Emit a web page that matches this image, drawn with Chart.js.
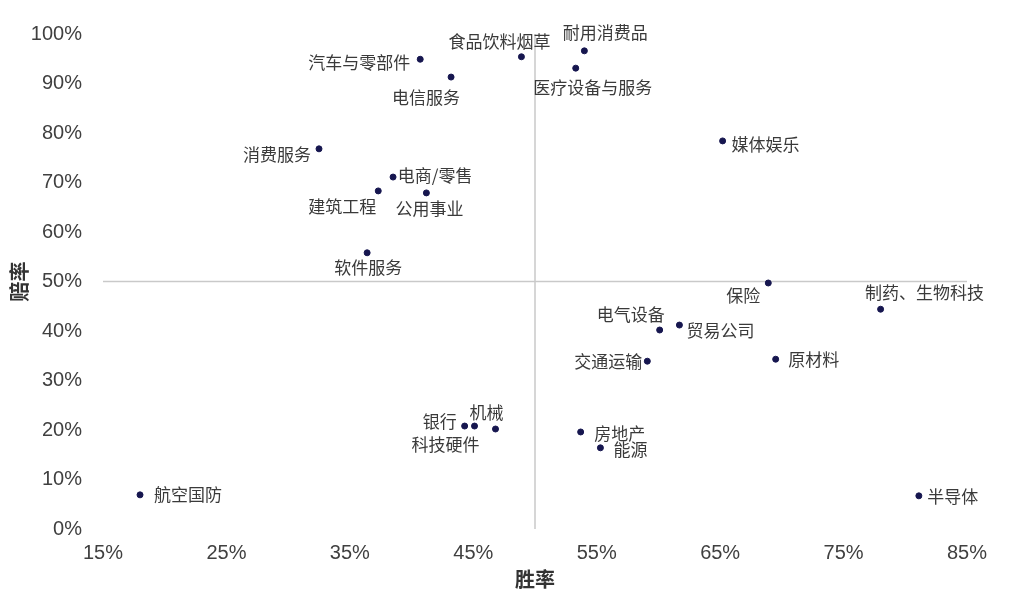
<!DOCTYPE html>
<html>
<head>
<meta charset="utf-8">
<script src="https://cdn.jsdelivr.net/npm/chart.js@4"></script>
<style>
  html, body { margin: 0; padding: 0; background: #fff; }
  #wrap { width: 1024px; height: 596px; }
</style>
</head>
<body>
<div id="wrap"><canvas id="myChart"></canvas></div>
<script>
const ctx = document.getElementById("myChart");

// 行业名称
const industries = [
  "航空国防", "半导体", "汽车与零部件", "食品饮料烟草", "耐用消费品", "医疗设备与服务",
  "电信服务", "消费服务", "电商/零售", "建筑工程", "公用事业", "软件服务",
  "媒体娱乐", "保险", "制药、生物科技", "电气设备", "贸易公司", "交通运输",
  "原材料", "银行", "科技硬件", "机械", "房地产", "能源"
];

// 胜率 (%)
const winRate = [
  18.0, 81.1, 40.7, 48.9, 54.0, 53.3,
  43.2, 32.5, 38.5, 37.3, 41.2, 36.4,
  65.2, 68.9, 78.0, 60.1, 61.7, 59.1,
  69.5, 44.3, 45.1, 46.8, 53.7, 55.3
];

// 赔率 (%)
const oddsRate = [
  6.9, 6.7, 94.9, 95.4, 96.6, 93.1,
  91.3, 76.8, 71.1, 68.3, 67.9, 55.8,
  78.4, 49.7, 44.4, 40.2, 41.2, 33.9,
  34.3, 20.8, 20.8, 20.2, 19.6, 16.4
];

const xTicks = [15, 25, 35, 45, 55, 65, 75, 85];
const crossAt = 50;

// label offsets from the dot (px), layout only
const labelDx = [48, 34, -61, -22, 21, 17, -25, -42, 42, -36, 3, 1, 43, -25, 44, -29, 41, -39, 38, -25, -29, -9, 39, 30];
const labelDy = [0, 1, 3, -15, -18, 19, 20, 6, -2, 16, 16, 15, 4, 13, -17, -15, 5, 0, 0, -4, 19, -16, 2, 2];

const points = winRate.map((x, i) => ({ x: x, y: oddsRate[i] }));

// 50%/50% quadrant lines
const quadrantLines = {
  id: "quadrantLines",
  beforeDatasetsDraw(chart) {
    const { ctx, scales: { x, y } } = chart;
    const px = x.getPixelForValue(crossAt);
    const py = y.getPixelForValue(crossAt);
    ctx.save();
    ctx.strokeStyle = "#c9c9c9";
    ctx.lineWidth = 1.5;
    ctx.beginPath();
    ctx.moveTo(px, y.getPixelForValue(100));
    ctx.lineTo(px, y.getPixelForValue(0));
    ctx.moveTo(x.getPixelForValue(15), py);
    ctx.lineTo(x.getPixelForValue(85), py);
    ctx.stroke();
    ctx.restore();
  },
};

// point name labels
const pointLabels = {
  id: "pointLabels",
  afterDatasetsDraw(chart) {
    const { ctx } = chart;
    const meta = chart.getDatasetMeta(0);
    ctx.save();
    ctx.font = '17px "Noto Sans CJK SC"';
    ctx.fillStyle = "#3a3a3a";
    ctx.textAlign = "center";
    ctx.textBaseline = "middle";
    meta.data.forEach((pt, i) => {
      ctx.fillText(industries[i], pt.x + labelDx[i], pt.y + labelDy[i]);
    });
    ctx.restore();
  },
};

new Chart(ctx, {
  type: "scatter",
  data: {
    datasets: [
      {
        label: "行业",
        data: points,
        backgroundColor: "#16164f",
        borderColor: "#16164f",
        pointRadius: 3,
        pointHoverRadius: 3,
      },
    ],
  },
  options: {
    responsive: true,
    maintainAspectRatio: false,
    animation: false,
    layout: {
      padding: { top: 34, right: 57, bottom: 0, left: 0 },
    },
    plugins: {
      legend: { display: false },
      tooltip: { enabled: false },
    },
    scales: {
      x: {
        type: "linear",
        min: 15,
        max: 85,
        afterBuildTicks: (scale) => {
          scale.ticks = xTicks.map((v) => ({ value: v }));
        },
        afterFit: (scale) => {
          scale.height = 67;
        },
        grid: { display: false, drawTicks: false },
        border: { display: false },
        ticks: {
          padding: 12,
          color: "#404040",
          font: { family: "Liberation Sans", size: 20 },
          callback: (v) => v + "%",
        },
        title: {
          display: true,
          text: "胜率",
          color: "#333",
          padding: { top: 0, bottom: 5 },
          font: { family: "Noto Sans CJK SC", size: 20, weight: "bold" },
        },
      },
      y: {
        min: 0,
        max: 100,
        afterFit: (scale) => {
          scale.width = 103;
        },
        grid: { display: false, drawTicks: false },
        border: { display: false },
        ticks: {
          stepSize: 10,
          padding: 21,
          color: "#404040",
          font: { family: "Liberation Sans", size: 20 },
          callback: (v) => v + "%",
        },
        title: {
          display: true,
          text: "赔率",
          color: "#333",
          padding: { top: 7, bottom: 0 },
          font: { family: "Noto Sans CJK SC", size: 20, weight: "bold" },
        },
      },
    },
  },
  plugins: [quadrantLines, pointLabels],
});
</script>
</body>
</html>
